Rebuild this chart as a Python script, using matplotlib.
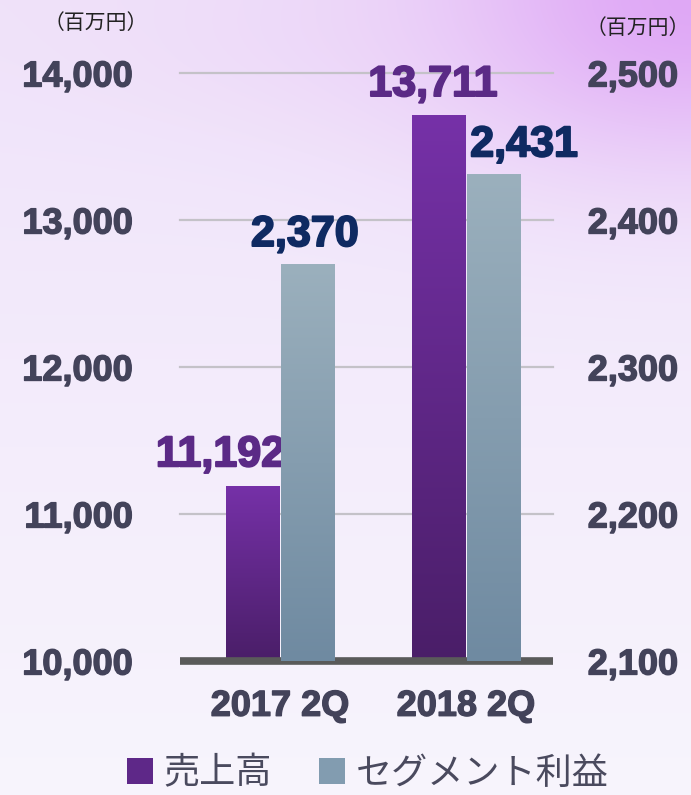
import numpy as np
import matplotlib

matplotlib.use("Agg")
import matplotlib.pyplot as plt
import matplotlib.patheffects as pe
from matplotlib.patches import Patch
from matplotlib.colors import LinearSegmentedColormap

# data
periods = ["2017 2Q", "2018 2Q"]
sales = [11192, 13711]           # 売上高 (left axis)
segment_profit = [2370, 2431]    # セグメント利益 (right axis)
left_ticks = [10000, 11000, 12000, 13000, 14000]
right_ticks = [2100, 2200, 2300, 2400, 2500]
legend_labels = ["売上高", "セグメント利益"]
unit_label = "（百万円）"

TICK_COLOR = "#43435a"
PURPLE_TOP, PURPLE_BOT = "#7631a8", "#4a1e68"
GREY_TOP, GREY_BOT = "#9bb0bd", "#6f8aa1"

plt.rcParams["font.family"] = ["Liberation Sans", "DejaVu Sans"]
cjk = ["Noto Sans CJK JP", "DejaVu Sans"]


def heavy(color, w=1.2):
    return [pe.withStroke(linewidth=w, foreground=color)]


fig = plt.figure(figsize=(6.91, 7.95), dpi=100)

# background: pale lavender with a pink-purple glow at top right
bg = fig.add_axes([0, 0, 1, 1], zorder=-10)
h, w = 200, 174
yy, xx = np.mgrid[0:1:h * 1j, 0:1:w * 1j]
base_top = np.array([0.94, 0.89, 0.98])
base_bot = np.array([0.97, 0.96, 0.99])
img = base_top * (1 - yy[..., None]) + base_bot * yy[..., None]
glow = np.exp(-(((xx - 1.0) / 0.38) ** 2 + ((yy - 0.0) / 0.2) ** 2))[..., None]
img = img * (1 - 0.8 * glow) + np.array([0.86, 0.60, 0.96]) * 0.8 * glow
glow2 = np.exp(-(((xx - 0.45) / 0.35) ** 2 + ((yy - 0.05) / 0.12) ** 2))[..., None]
img = img * (1 - 0.25 * glow2) + np.array([0.92, 0.80, 0.97]) * 0.25 * glow2
bg.imshow(img, aspect="auto", extent=[0, 1, 0, 1], interpolation="bilinear")
bg.set_axis_off()

ax = fig.add_axes([0.2605, 0.1686, 0.5398, 0.7396])
ax.patch.set_alpha(0)
ax2 = ax.twinx()

x = np.arange(len(periods))
width = 0.29
off = 0.148


def gradient_bars(axis, xs, vals, bottom, top_c, bot_c):
    cmap = LinearSegmentedColormap.from_list("g", [bot_c, top_c])
    grad = np.linspace(0, 1, 256).reshape(-1, 1)
    bars = axis.bar(xs, np.array(vals) - bottom, width, bottom=bottom,
                    color=top_c, zorder=2)
    for b in bars:
        im = axis.imshow(grad, cmap=cmap, aspect="auto", origin="lower",
                         extent=[b.get_x(), b.get_x() + b.get_width(),
                                 b.get_y(), b.get_y() + b.get_height()],
                         zorder=3)
        im.set_clip_path(b)
    return bars


gradient_bars(ax, x - off, sales, 10000, PURPLE_TOP, PURPLE_BOT)
gradient_bars(ax2, x + off, segment_profit, 2100, GREY_TOP, GREY_BOT)

ax.set_xlim(-0.538, 1.468)
ax.set_ylim(10000, 14000)
ax2.set_ylim(2100, 2500)

for t in left_ticks[1:]:
    ax.axhline(t, color="#c4c2c8", lw=1.6, zorder=1, clip_on=False)
ax.axhline(10000, color="#5a5a5a", lw=5.5, zorder=5, clip_on=False,
           solid_capstyle="butt")

ax.set_yticks(left_ticks)
ax.set_yticklabels([f"{t:,}" for t in left_ticks], fontsize=26, fontweight="bold")
ax2.set_yticks(right_ticks)
ax2.set_yticklabels([f"{t:,}" for t in right_ticks], fontsize=26, fontweight="bold")
ax.set_xticks(x)
ax.set_xticklabels(periods, fontsize=26, fontweight="bold")
for a in (ax, ax2):
    for s in a.spines.values():
        s.set_visible(False)
    a.tick_params(length=0, labelcolor=TICK_COLOR)
ax.tick_params(axis="y", pad=34)
ax2.tick_params(axis="y", pad=25)
ax.tick_params(axis="x", pad=20)
for lab in ax.get_yticklabels() + ax2.get_yticklabels() + ax.get_xticklabels():
    lab.set_path_effects(heavy(TICK_COLOR, 1.0))

# value labels
for xi, v, dx in zip(x - off, sales, [-23, -4]):
    ax.annotate(f"{v:,}", (xi, v), xytext=(dx, 14), textcoords="offset points",
                ha="center", va="baseline", fontsize=31, fontweight="bold",
                color="#5b2a86", zorder=6, path_effects=heavy("#5b2a86", 1.4))
for xi, v, dx in zip(x + off, segment_profit, [-2, 22]):
    ax2.annotate(f"{v:,}", (xi, v), xytext=(dx, 13), textcoords="offset points",
                 ha="center", va="baseline", fontsize=31, fontweight="bold",
                 color="#0f2a62", zorder=6, path_effects=heavy("#0f2a62", 1.4))

# unit labels
fig.text(0.138, 0.971, unit_label, ha="center", va="center", fontsize=15,
         family=cjk, color="#222222")
fig.text(0.999, 0.965, unit_label, ha="right", va="center", fontsize=15,
         family=cjk, color="#222222")

# legend
handles = [Patch(facecolor="#5e2888"), Patch(facecolor="#829cb0")]
leg = fig.legend(handles, legend_labels, loc="center",
                 bbox_to_anchor=(0.532, 0.027), ncol=2, frameon=False,
                 handlelength=0.72, handleheight=0.72, handletextpad=0.3,
                 columnspacing=1.3, borderpad=0, prop={"family": cjk, "size": 26})
for t in leg.get_texts():
    t.set_color("#4a4a5e")

fig.savefig("out.png", dpi=100)
